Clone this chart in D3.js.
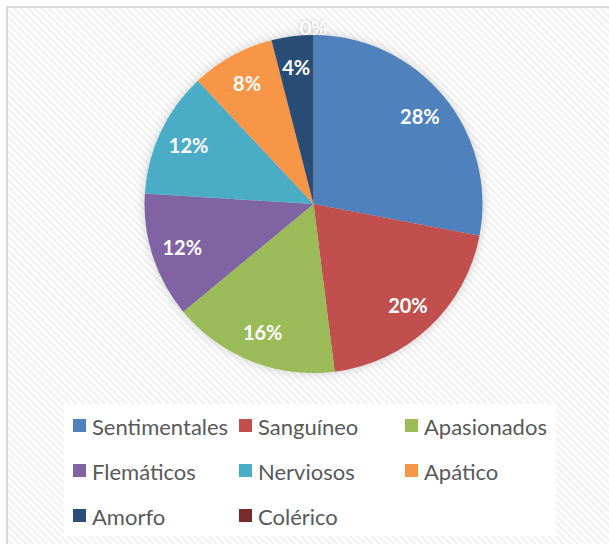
<!DOCTYPE html>
<html>
<head>
<meta charset="utf-8">
<script src="https://cdn.jsdelivr.net/npm/d3@7"></script>
<style>
  body { margin: 0; background: #fff; }
</style>
</head>
<body>
<div id="container"></div>
<script>
let w = 609;
let h = 544;

// data
let categories = ["Sentimentales", "Sanguíneo", "Apasionados", "Flemáticos", "Nerviosos", "Apático", "Amorfo", "Colérico"];
let values = [28, 20, 16, 12, 12, 8, 4, 0];
let colors = ["#4F81BD", "#C0504D", "#9BBB59", "#8064A2", "#4BACC6", "#F79646", "#2C4D75", "#772C2A"];

let cx = 313.5;
let cy = 204;
let radius = 169;

let viz = d3.select("#container").append("svg")
    .attr("width", w)
    .attr("height", h)
;

// striped background + soft shadows
let defs = viz.append("defs");
let pattern = defs.append("pattern")
    .attr("id", "stripes")
    .attr("patternUnits", "userSpaceOnUse")
    .attr("width", 5)
    .attr("height", 5)
    .attr("patternTransform", "rotate(45)")
;
pattern.append("rect").attr("width", 5).attr("height", 5).attr("fill", "#ffffff");
pattern.append("rect").attr("width", 5).attr("height", 2.5).attr("fill", "#f1f1f1");

let glow = defs.append("filter").attr("id", "glow")
    .attr("x", "-20%").attr("y", "-20%").attr("width", "140%").attr("height", "140%");
glow.append("feDropShadow")
    .attr("dx", 0).attr("dy", 0)
    .attr("stdDeviation", 5)
    .attr("flood-color", "#000")
    .attr("flood-opacity", 0.18);

let textGlow = defs.append("filter").attr("id", "textGlow")
    .attr("x", "-50%").attr("y", "-50%").attr("width", "200%").attr("height", "200%");
textGlow.append("feDropShadow")
    .attr("dx", 0).attr("dy", 0)
    .attr("stdDeviation", 2)
    .attr("flood-color", "#000")
    .attr("flood-opacity", 0.25);

viz.append("rect")
    .attr("x", 0).attr("y", 0)
    .attr("width", w).attr("height", h)
    .attr("fill", "#fff")
;
viz.append("rect")
    .attr("x", 7).attr("y", 7)
    .attr("width", w + 10).attr("height", h + 10)
    .attr("fill", "url(#stripes)")
    .attr("stroke", "#d9d9d9")
    .attr("stroke-width", 2)
;

// pie
let pieData = d3.pie().sort(null).value(function(d) { return d; })(values);
let arc = d3.arc().innerRadius(0).outerRadius(radius);
let labelArc = d3.arc().innerRadius(138).outerRadius(138);

let pieGroup = viz.append("g").attr("transform", "translate(" + cx + "," + cy + ")");

pieGroup.append("g").attr("filter", "url(#glow)")
  .selectAll(".slice").data(pieData).enter()
  .append("path")
    .attr("class", "slice")
    .attr("d", arc)
    .attr("fill", function(d, i) { return colors[i]; })
;

pieGroup.selectAll(".label").data(pieData).enter()
  .append("text")
    .attr("class", "label")
    .text(function(d) { return d.data + "%"; })
    .attr("x", function(d) {
      if (d.data == 0) { return 0; }
      return labelArc.centroid(d)[0];
    })
    .attr("y", function(d) {
      if (d.data == 0) { return -(radius + 8); }
      return labelArc.centroid(d)[1];
    })
    .attr("text-anchor", "middle")
    .attr("dominant-baseline", "central")
    .attr("font-family", "Lato")
    .attr("font-weight", function(d) { return d.data == 0 ? "normal" : "bold"; })
    .attr("font-size", 20)
    .attr("fill", "#ffffff")
    .attr("filter", function(d) { return d.data == 0 ? "url(#textGlow)" : null; })
;

// legend
let legendGroup = viz.append("g");
legendGroup.append("rect")
    .attr("x", 64).attr("y", 404)
    .attr("width", 492).attr("height", 132)
    .attr("fill", "#ffffff")
;

let colX = [73, 239, 405];
let rowY = [426, 471, 516];

let items = legendGroup.selectAll(".item").data(categories).enter()
  .append("g")
    .attr("class", "item")
    .attr("transform", function(d, i) {
      return "translate(" + colX[i % 3] + "," + rowY[Math.floor(i / 3)] + ")";
    })
;
items.append("rect")
    .attr("x", 0).attr("y", -7)
    .attr("width", 13).attr("height", 13)
    .attr("fill", function(d, i) { return colors[i]; })
;
items.append("text")
    .text(function(d) { return d; })
    .attr("x", 19)
    .attr("y", 0)
    .attr("dominant-baseline", "central")
    .attr("font-family", "Lato")
    .attr("font-size", 22)
    .attr("fill", "#595959")
;
</script>
</body>
</html>
